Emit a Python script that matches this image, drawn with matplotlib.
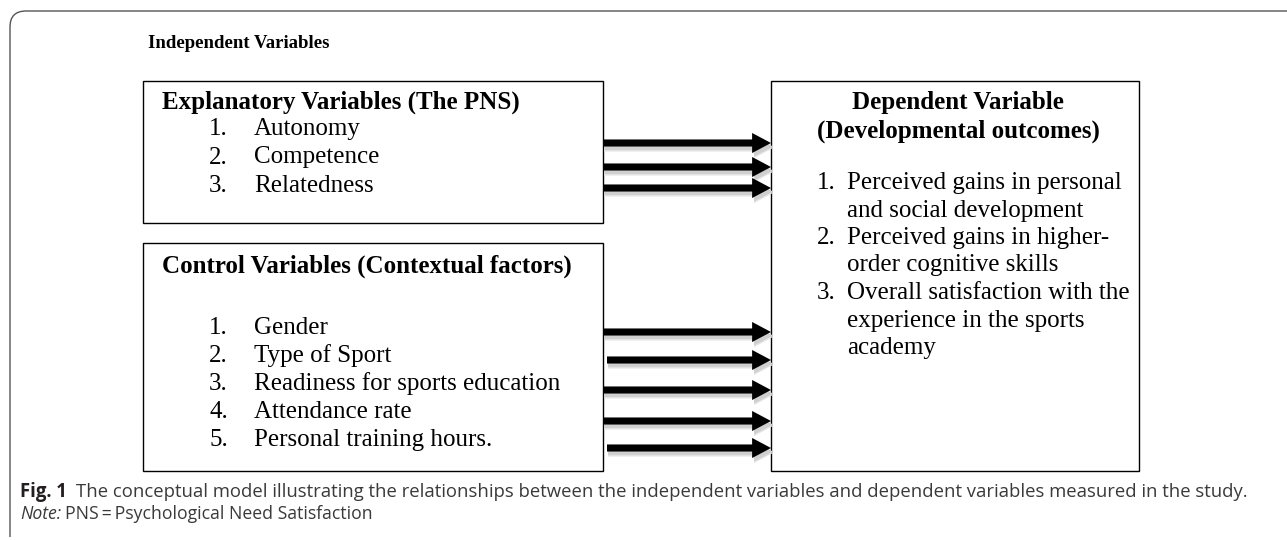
import matplotlib
matplotlib.use("Agg")
import matplotlib.pyplot as plt
from matplotlib.patches import Rectangle, FancyArrowPatch, PathPatch
from matplotlib.path import Path

# --- texts of the diagram ---
GROUP_TITLE = "Independent Variables"
EXPL_TITLE = "Explanatory Variables (The PNS)"
EXPL_ITEMS = ["Autonomy", "Competence", "Relatedness"]
CTRL_TITLE = "Control Variables (Contextual factors)"
CTRL_ITEMS = ["Gender", "Type of Sport", "Readiness for sports education",
              "Attendance rate", "Personal training hours."]
DEP_TITLE = ["Dependent Variable", "(Developmental outcomes)"]
DEP_ITEMS = [["Perceived gains in personal", "and social development"],
             ["Perceived gains in higher-", "order cognitive skills"],
             ["Overall satisfaction with the", "experience in the sports", "academy"]]
CAPTION_BOLD = "Fig. 1"
CAPTION = "The conceptual model illustrating the relationships between the independent variables and dependent variables measured in the study."
NOTE_IT = "Note:"
NOTE = "PNS\u2009=\u2009Psychological Need Satisfaction"

# arrow rows (pixel y) and start x
EXPL_ARROWS = [(603, 143), (603, 167), (603, 188)]
CTRL_ARROWS = [(604, 332), (607, 360), (603, 390), (603, 421), (607, 448)]

W, H = 1287, 540
fig = plt.figure(figsize=(W / 100, H / 100), dpi=100)
ax = fig.add_axes([0, 0, 1, 1])
ax.set_xlim(0, W)
ax.set_ylim(H, 0)
ax.axis("off")

SERIF = "Liberation Serif"
SANS = ["Open Sans", "DejaVu Sans"]
FS = 18

# outer frame: rounded top-left corner, top and left edges only
r = 16
verts = [(W + 5, 11), (10 + r, 11), (10, 11), (10, 11 + r), (10, 537)]
codes = [Path.MOVETO, Path.LINETO, Path.CURVE3, Path.CURVE3, Path.LINETO]
ax.add_patch(PathPatch(Path(verts, codes), fill=False, ec="#555555", lw=1.0))

# boxes
for (x0, y0, x1, y1) in [(143, 81, 603, 223), (143, 243, 603, 471), (771, 81, 1139, 471)]:
    ax.add_patch(Rectangle((x0, y0), x1 - x0, y1 - y0, fill=False, ec="black", lw=1.0))

ax.text(148, 43, GROUP_TITLE, family=SERIF, weight="bold", fontsize=13.5, va="center")

ax.text(162, 102, EXPL_TITLE, family=SERIF, weight="bold", fontsize=FS, va="center")
for i, item in enumerate(EXPL_ITEMS):
    y = 129 + i * 28.5
    ax.text(228, y, f"{i + 1}.", family=SERIF, fontsize=FS, va="center", ha="right")
    ax.text(254, y, item, family=SERIF, fontsize=FS, va="center")

ax.text(162, 266, CTRL_TITLE, family=SERIF, weight="bold", fontsize=FS, va="center")
for i, item in enumerate(CTRL_ITEMS):
    y = 328 + i * 28
    ax.text(228, y, f"{i + 1}.", family=SERIF, fontsize=FS, va="center", ha="right")
    ax.text(254, y, item, family=SERIF, fontsize=FS, va="center")

for i, t in enumerate(DEP_TITLE):
    ax.text(958, 103 + i * 28, t, family=SERIF, weight="bold", fontsize=FS,
            va="center", ha="center")
row = 0
for i, lines in enumerate(DEP_ITEMS):
    for j, t in enumerate(lines):
        y = 183 + row * 27.5
        if j == 0:
            ax.text(836, y, f"{i + 1}.", family=SERIF, fontsize=FS, va="center", ha="right")
        ax.text(847, y, t, family=SERIF, fontsize=FS, va="center")
        row += 1


def arrow(x0, y):
    style = "simple,head_length=0.8,head_width=0.85,tail_width=0.3"
    # soft drop shadow
    for dy, c in [(5, "#e4e4e4"), (3.5, "#cfcfcf")]:
        ax.add_patch(FancyArrowPatch((x0 + 1, y + dy), (773, y + dy), arrowstyle=style,
                                     mutation_scale=17, lw=0, color=c,
                                     shrinkA=0, shrinkB=0))
    ax.add_patch(FancyArrowPatch((x0, y), (771, y), arrowstyle=style,
                                 mutation_scale=17, lw=0, color="black",
                                 shrinkA=0, shrinkB=0))


for x0, y in EXPL_ARROWS + CTRL_ARROWS:
    arrow(x0, y)

renderer = fig.canvas.get_renderer()


def fit_text(x, y, s, right, fs, **kw):
    # scale the font size so the line ends at the given right edge
    t = ax.text(x, y, s, fontsize=fs, va="center", **kw)
    w = t.get_window_extent(renderer).width
    t.set_fontsize(fs * (right - x) / w)
    return t


cap = fit_text(76, 492, CAPTION, 1242, 12, family=SANS, color="#3a3a3a")
cfs = cap.get_fontsize()
ax.text(20, 492, CAPTION_BOLD, family=SANS, weight="bold", fontsize=cfs,
        va="center", color="#231f20")
note = ax.text(20, 514, NOTE_IT, family=SANS, style="italic", fontsize=cfs * 0.95,
               va="center", color="#3a3a3a")
nx = 20 + note.get_window_extent(renderer).width + 4
ax.text(nx, 514, NOTE, family=SANS, fontsize=cfs * 0.95, va="center", color="#3a3a3a")

fig.savefig("out.png", dpi=100)
